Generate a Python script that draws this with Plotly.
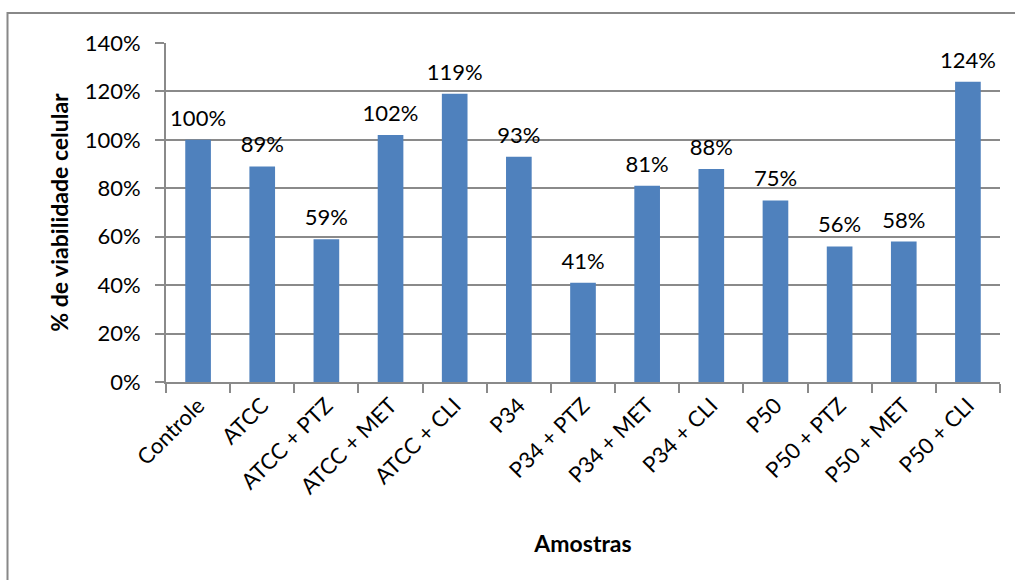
import plotly.graph_objects as go

# Amostras e viabilidade celular (%)
amostras = ["Controle", "ATCC", "ATCC + PTZ", "ATCC + MET", "ATCC + CLI",
            "P34", "P34 + PTZ", "P34 + MET", "P34 + CLI",
            "P50", "P50 + PTZ", "P50 + MET", "P50 + CLI"]
viabilidade = [100, 89, 59, 102, 119, 93, 41, 81, 88, 75, 56, 58, 124]
ticks_y = [0, 20, 40, 60, 80, 100, 120, 140]

FONT = "Lato"
GRID = "#8a8a8a"

fig = go.Figure()
fig.add_trace(go.Bar(
    x=amostras,
    y=viabilidade,
    marker=dict(color="#4F81BD", line=dict(width=0)),
    hoverinfo="x+y",
))
# Rótulos de valor acima de cada barra
fig.add_trace(go.Scatter(
    x=amostras,
    y=viabilidade,
    mode="markers+text",
    marker=dict(size=12, color="rgba(0,0,0,0)"),
    text=[f"{v}%" for v in viabilidade],
    textposition="top center",
    textfont=dict(family=FONT, size=22, color="#000000"),
    cliponaxis=False,
    hoverinfo="skip",
))

fig.update_layout(
    width=1015, height=580,
    margin=dict(l=166, r=15, t=43, b=198),
    paper_bgcolor="white", plot_bgcolor="white",
    bargap=0.6,
    showlegend=False,
    font=dict(family=FONT, size=22, color="#000000"),
    xaxis=dict(
        type="category",
        range=[-0.5, len(amostras) - 0.5],
        tickangle=-45,
        tickson="boundaries",
        ticks="outside", ticklen=9, tickwidth=2, tickcolor=GRID,
        showline=True, linecolor=GRID, linewidth=2,
        showgrid=False,
        tickfont=dict(family=FONT, size=22),
        title=dict(text="<b>Amostras</b>", font=dict(family=FONT, size=23), standoff=38),
    ),
    yaxis=dict(
        range=[0, 140],
        tickvals=ticks_y,
        ticktext=[f"{v}%" for v in ticks_y],
        ticks="outside", ticklen=9, tickwidth=2, tickcolor=GRID,
        showline=True, linecolor=GRID, linewidth=2,
        showgrid=True, gridcolor=GRID, gridwidth=2,
        zeroline=False,
        ticklabelstandoff=10,
        tickfont=dict(family=FONT, size=22),
        title=dict(text="<b>% de viabilidade celular</b>", font=dict(family=FONT, size=23), standoff=10),
    ),
    shapes=[dict(
        type="rect", xref="paper", yref="paper",
        x0=(7.5 - 166) / 834, x1=(1030 - 166) / 834,
        y0=(382 - 600) / 339, y1=(382 - 13) / 339,
        line=dict(color="#888888", width=2), fillcolor="rgba(0,0,0,0)",
        layer="below",
    )],
)

fig.write_html("out.html")
